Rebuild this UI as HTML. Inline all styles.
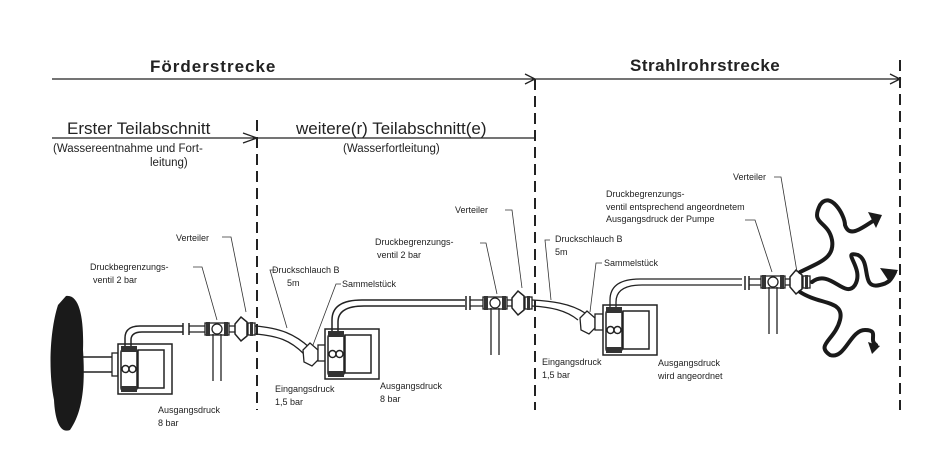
<!DOCTYPE html>
<html><head><meta charset="utf-8"><style>
body{margin:0;background:#fff}
svg{display:block}
text{font-family:"Liberation Sans",sans-serif;fill:#222}
.s{font-size:9px}
</style></head><body>
<svg width="934" height="475" viewBox="0 0 934 475" xmlns="http://www.w3.org/2000/svg">
<defs>
<g id="pump">
 <rect x="0" y="0" width="54" height="50" fill="#fff" stroke="#222" stroke-width="1.5"/>
 <rect x="20" y="6" width="26" height="38" fill="#fff" stroke="#222" stroke-width="1.5"/>
 <rect x="3" y="5" width="16" height="42" rx="3" fill="#fff" stroke="#222" stroke-width="1.5"/>
 <rect x="3" y="2" width="16" height="6" fill="#333"/>
 <rect x="3" y="42" width="16" height="6" fill="#333"/>
 <circle cx="7.5" cy="25" r="3.5" fill="#fff" stroke="#222" stroke-width="1.5"/>
 <circle cx="14.5" cy="25" r="3.5" fill="#fff" stroke="#222" stroke-width="1.5"/>
</g>
<g id="tee">
 <rect x="-12" y="-6" width="24" height="12" fill="#fff" stroke="#222" stroke-width="1.3"/>
 <rect x="-11" y="-7" width="4" height="14" fill="#333"/>
 <rect x="7" y="-7" width="4" height="14" fill="#333"/>
 <circle cx="0" cy="0" r="5" fill="#fff" stroke="#222" stroke-width="1.3"/>
 <path d="M-4 5 V52 M4 5 V52" stroke="#222" stroke-width="1.3" fill="none"/>
</g>
<g id="vt">
 <path d="M-10 -5 L-4 -12 L2 -7 L2 7 L-4 12 L-10 5 Z" fill="#fff" stroke="#222" stroke-width="1.5"/>
 <rect x="3" y="-6" width="7" height="12" fill="#fff" stroke="#222" stroke-width="1.3"/>
 <rect x="5" y="-7" width="3" height="14" fill="#333"/>
</g>
</defs>

<!-- headers -->
<text x="150" y="72" font-size="17" font-weight="bold" letter-spacing="1">Förderstrecke</text>
<text x="630" y="71" font-size="17" font-weight="bold" letter-spacing="0.5">Strahlrohrstrecke</text>
<path d="M52 79 H900 M525 74 L535 79 L525 84 M890 74 L900 79 L890 84" stroke="#222" stroke-width="1.3" fill="none"/>
<text x="67" y="134" font-size="17">Erster Teilabschnitt</text>
<text x="296" y="134" font-size="17">weitere(r) Teilabschnitt(e)</text>
<path d="M52 138 H535 M243 133 L257 138 L243 143" stroke="#222" stroke-width="1.3" fill="none"/>
<text x="53" y="152" font-size="11.5">(Wassereentnahme und Fort-</text>
<text x="150" y="166" font-size="11.5">leitung)</text>
<text x="343" y="152" font-size="11.5">(Wasserfortleitung)</text>

<!-- dashed dividers -->
<path d="M257 120 V410" stroke="#222" stroke-width="2" stroke-dasharray="11,6"/>
<path d="M535 79 V410" stroke="#222" stroke-width="2" stroke-dasharray="11,6"/>
<path d="M900 60 V410" stroke="#222" stroke-width="2" stroke-dasharray="11,6"/>

<!-- source -->
<path d="M66 296 C80 294 84 320 83 350 C85 380 84 410 70 430 C60 434 55 420 54 400 C48 370 50 330 58 305 Z" fill="#1a1a1a"/>
<path d="M83 357 H118 M83 372 H118" stroke="#222" stroke-width="1.5"/>
<rect x="112" y="353" width="6" height="23" fill="#fff" stroke="#222" stroke-width="1.3"/>

<!-- pump1 -->
<use href="#pump" x="118" y="344"/>
<path d="M125 346 V338 Q125 326 140 326 H183 M131 346 V340 Q131 332 142 332 H183" stroke="#222" stroke-width="1.5" fill="none"/>
<path d="M183 323 V335 M189 323 V335" stroke="#222" stroke-width="1.5"/>
<path d="M189 326 H245 M189 332 H245" stroke="#222" stroke-width="1.3"/>
<use href="#tee" x="217" y="329"/>
<use href="#vt" x="245" y="329"/>
<!-- hose to pump2 -->
<path d="M255 326 C280 328 295 334 310 348 M255 334 C278 336 290 340 304 354" stroke="#222" stroke-width="1.3" fill="none"/>
<path d="M303 350 L310 343 L318 350 L318 360 L312 366 L304 362 Z" fill="#fff" stroke="#222" stroke-width="1.3"/>
<rect x="318" y="345" width="8" height="16" fill="#fff" stroke="#222" stroke-width="1.3"/>

<!-- pump2 -->
<use href="#pump" x="325" y="329"/>
<path d="M332 331 V320 Q332 300 362 300 H465 M338 331 V322 Q338 306 364 306 H465" stroke="#222" stroke-width="1.5" fill="none"/>
<path d="M466 296 V310 M470 296 V310" stroke="#222" stroke-width="1.5"/>
<path d="M470 300 H520 M470 306 H520" stroke="#222" stroke-width="1.3"/>
<use href="#tee" x="495" y="303"/>
<use href="#vt" x="522" y="303"/>
<!-- hose to pump3 -->
<path d="M532 300 C550 301 570 303 585 313 M532 306 C550 307 566 310 578 320" stroke="#222" stroke-width="1.2" fill="none"/>
<path d="M580 318 L587 311 L595 318 L595 328 L589 334 L581 330 Z" fill="#fff" stroke="#222" stroke-width="1.3"/>
<rect x="595" y="314" width="8" height="16" fill="#fff" stroke="#222" stroke-width="1.3"/>

<!-- pump3 -->
<use href="#pump" x="603" y="305"/>
<path d="M610 307 V300 Q610 279 640 279 H742 M616 307 V302 Q616 285 642 285 H742" stroke="#222" stroke-width="1.3" fill="none"/>
<path d="M745 276 V290 M749 276 V290" stroke="#222" stroke-width="1.5"/>
<path d="M749 279 H798 M749 285 H798" stroke="#222" stroke-width="1.3"/>
<use href="#tee" x="773" y="282"/>
<use href="#vt" x="800" y="282"/>

<!-- wavy hoses -->
<g stroke="#1a1a1a" stroke-width="4" fill="none" stroke-linecap="round">
<path d="M800 272 C820 262 835 258 832 240 C828 220 810 225 820 205 C830 190 845 215 845 225 C850 240 865 225 878 218"/>
<path d="M812 282 C830 268 845 300 855 285 C865 268 840 250 858 255 C872 262 860 290 880 285 C890 283 892 278 895 272"/>
<path d="M800 292 C820 305 845 300 840 320 C835 340 815 345 830 355 C845 360 850 330 865 330 C880 330 868 340 876 345"/>
</g>
<path d="M868 212 L882 215 L876 228 Z M880 268 L898 270 L890 283 Z M868 342 L880 346 L872 354 Z" fill="#1a1a1a"/>

<!-- labels & leaders -->
<g class="s" font-size="9">
<text x="176" y="241" font-size="9">Verteiler</text>
<text x="90" y="270" font-size="9">Druckbegrenzungs-</text>
<text x="93" y="283" font-size="9">ventil 2 bar</text>
<text x="272" y="273" font-size="9">Druckschlauch B</text>
<text x="287" y="286" font-size="9">5m</text>
<text x="342" y="287" font-size="9">Sammelstück</text>
<text x="375" y="245" font-size="9">Druckbegrenzungs-</text>
<text x="377" y="258" font-size="9">ventil 2 bar</text>
<text x="455" y="213" font-size="9">Verteiler</text>
<text x="275" y="392" font-size="9">Eingangsdruck</text>
<text x="275" y="405" font-size="9">1,5 bar</text>
<text x="380" y="389" font-size="9">Ausgangsdruck</text>
<text x="380" y="402" font-size="9">8 bar</text>
<text x="158" y="413" font-size="9">Ausgangsdruck</text>
<text x="158" y="426" font-size="9">8 bar</text>
<text x="555" y="242" font-size="9">Druckschlauch B</text>
<text x="555" y="255" font-size="9">5m</text>
<text x="604" y="266" font-size="9">Sammelstück</text>
<text x="542" y="365" font-size="9">Eingangsdruck</text>
<text x="542" y="378" font-size="9">1,5 bar</text>
<text x="658" y="366" font-size="9">Ausgangsdruck</text>
<text x="658" y="379" font-size="9">wird angeordnet</text>
<text x="606" y="197" font-size="9">Druckbegrenzungs-</text>
<text x="606" y="210" font-size="9">ventil entsprechend angeordnetem</text>
<text x="606" y="222" font-size="9">Ausgangsdruck der Pumpe</text>
<text x="733" y="180" font-size="9">Verteiler</text>
</g>
<g stroke="#333" stroke-width="0.8" fill="none">
<path d="M222 237 H231 L246 312"/>
<path d="M193 267 H202 L217 320"/>
<path d="M276 270 H270 L287 328"/>
<path d="M341 284 H336 L313 345"/>
<path d="M480 243 H486 L497 294"/>
<path d="M505 210 H512 L522 288"/>
<path d="M550 240 H545 L551 300"/>
<path d="M602 263 H596 L590 312"/>
<path d="M745 220 H755 L772 272"/>
<path d="M774 177 H781 L797 272"/>
</g>
</svg>
</body></html>
